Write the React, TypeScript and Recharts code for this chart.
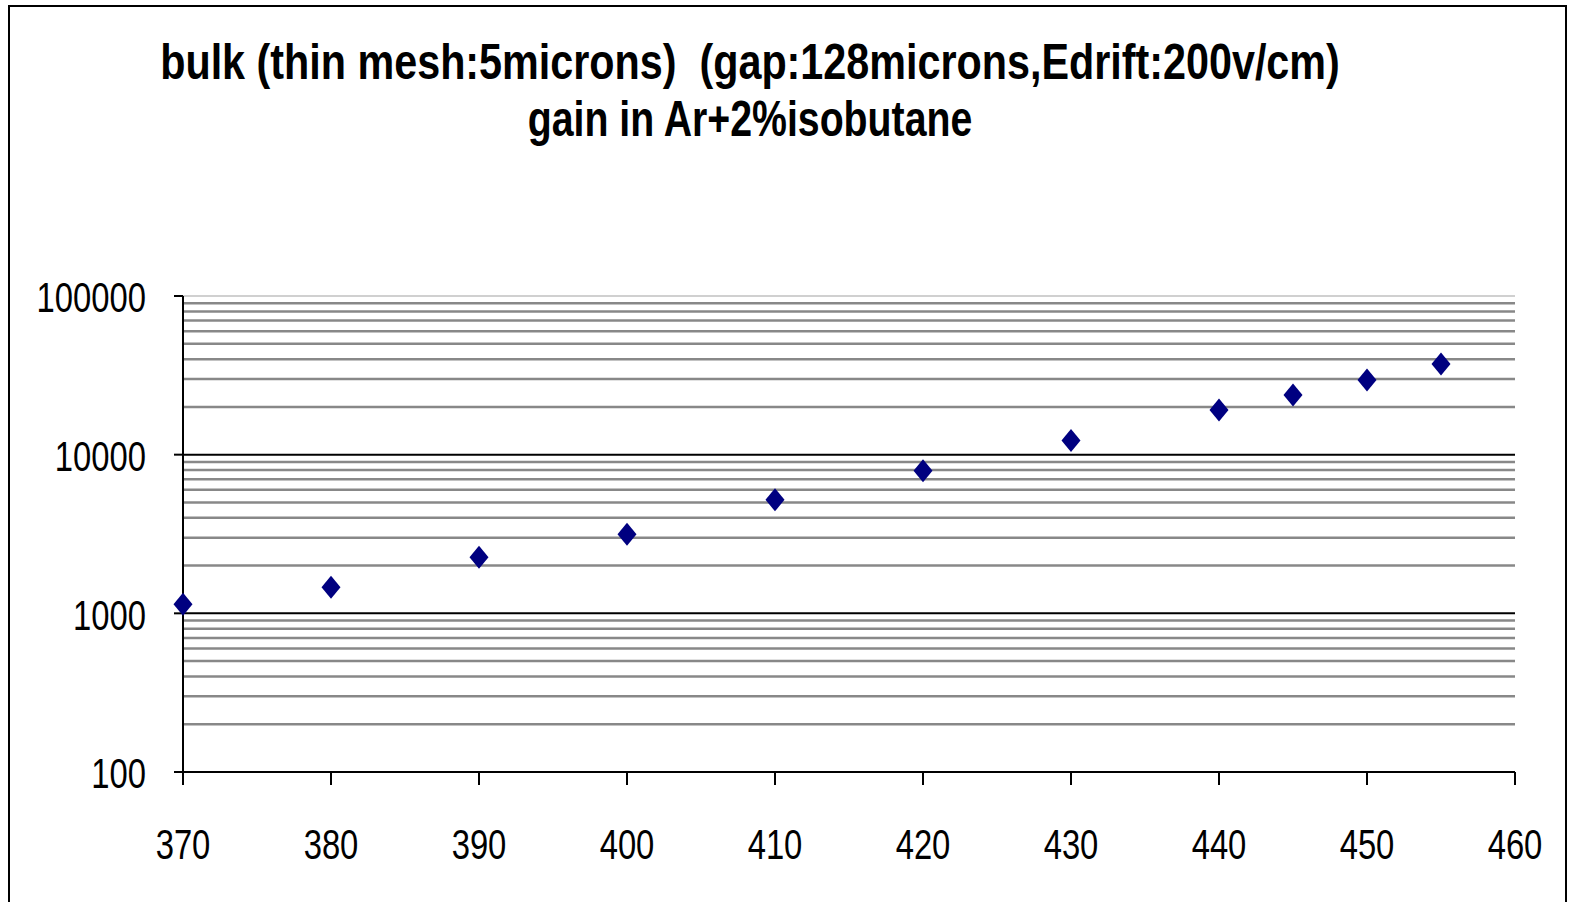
import React from "react";
import { ScatterChart, Scatter, XAxis, YAxis, ReferenceLine } from "recharts";

const voltages = [370, 380, 390, 400, 410, 420, 430, 440, 445, 450, 455];
const gains = [1140, 1460, 2260, 3150, 5190, 7920, 12300, 19100, 23800, 29500, 37300];
const xTicks = [370, 380, 390, 400, 410, 420, 430, 440, 450, 460];
const yTicks = [100, 1000, 10000, 100000];
const minorGrid = [200, 300, 400, 500, 600, 700, 800, 900, 2000, 3000, 4000, 5000, 6000, 7000, 8000, 9000, 20000, 30000, 40000, 50000, 60000, 70000, 80000, 90000];
const majorGrid = [1000, 10000];
const topGrid = [100000];

const titleLine1 = "bulk (thin mesh:5microns)  (gap:128microns,Edrift:200v/cm)";
const titleLine2 = "gain in Ar+2%isobutane";

const data = voltages.map((v, i) => ({ v, g: gains[i] }));

const FONT = "'Liberation Sans', Arial, sans-serif";

const Diamond = (props: any) => {
  const { cx, cy } = props;
  const w = 9.5;
  const h = 11.5;
  return (
    <polygon
      points={`${cx},${cy - h} ${cx + w},${cy} ${cx},${cy + h} ${cx - w},${cy}`}
      fill="#000080"
    />
  );
};

const YTick = (props: any) => {
  const { x, y, payload } = props;
  return (
    <g transform={`translate(${x - 26},${y + 1}) scale(0.8,1.05)`}>
      <text x={0} y={0} textAnchor="end" dominantBaseline="central" fontFamily={FONT} fontSize={41} fill="#000">
        {payload.value}
      </text>
    </g>
  );
};

const XTick = (props: any) => {
  const { x, y, payload } = props;
  return (
    <g transform={`translate(${x},${y + 57}) scale(0.8,1.05)`}>
      <text x={0} y={0} textAnchor="middle" dominantBaseline="central" fontFamily={FONT} fontSize={41} fill="#000">
        {payload.value}
      </text>
    </g>
  );
};

const titleStyle = (sx: number, top: number): React.CSSProperties => ({
  position: "absolute",
  left: 0,
  width: 1500,
  top,
  textAlign: "center",
  fontFamily: FONT,
  fontWeight: "bold",
  fontSize: 50,
  lineHeight: "57px",
  color: "#000",
  whiteSpace: "pre",
  transform: `scaleX(${sx})`,
  transformOrigin: "750px 0",
});

export default function App() {
  return (
    <div style={{ position: "absolute", left: 0, top: 0, width: 1574, height: 902, overflow: "hidden", background: "#fff" }}>
      <div
        style={{
          position: "absolute",
          left: 8,
          top: 5,
          width: 1559,
          height: 920,
          border: "2px solid #000",
          boxSizing: "border-box",
        }}
      />
      <div style={titleStyle(0.826, 34)}>{titleLine1}</div>
      <div style={titleStyle(0.785, 91)}>{titleLine2}</div>
      <div style={{ position: "absolute", left: 0, top: 0 }}>
        <ScatterChart width={1574} height={902} margin={{ top: 296, right: 59, bottom: 0, left: 0 }}>
          {minorGrid.map((g) => (
            <ReferenceLine key={g} y={g} stroke="#888888" strokeWidth={2.5} />
          ))}
          {topGrid.map((g) => (
            <ReferenceLine key={g} y={g} stroke="#d0d0d0" strokeWidth={2} />
          ))}
          {majorGrid.map((g) => (
            <ReferenceLine key={g} y={g} stroke="#000" strokeWidth={2} />
          ))}
          <XAxis
            type="number"
            dataKey="v"
            domain={[370, 460]}
            ticks={xTicks}
            interval={0}
            stroke="#000"
            strokeWidth={2}
            tickSize={13}
            tickLine={{ stroke: "#000", strokeWidth: 2 }}
            tick={<XTick />}
            height={130}
          />
          <YAxis
            type="number"
            dataKey="g"
            scale="log"
            domain={[100, 100000]}
            ticks={yTicks}
            interval={0}
            allowDataOverflow
            stroke="#000"
            strokeWidth={2}
            tickSize={9}
            tickLine={{ stroke: "#000", strokeWidth: 2 }}
            tick={<YTick />}
            width={183}
          />
          <Scatter data={data} shape={<Diamond />} isAnimationActive={false} />
        </ScatterChart>
      </div>
    </div>
  );
}
